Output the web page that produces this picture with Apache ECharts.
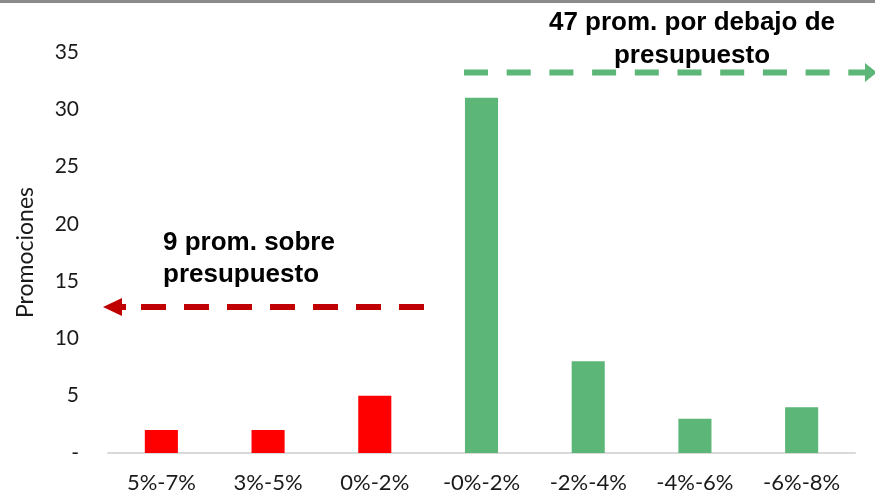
<!DOCTYPE html>
<html>
<head>
<meta charset="utf-8">
<script src="https://cdn.jsdelivr.net/npm/echarts@6/dist/echarts.min.js"></script>
<style>
html,body{margin:0;padding:0;background:#fff;}
#chart{width:875px;height:494px;}
</style>
</head>
<body>
<div id="chart"></div>
<script>
const categories = ['5%-7%', '3%-5%', '0%-2%', '-0%-2%', '-2%-4%', '-4%-6%', '-6%-8%'];
const promociones = [2, 2, 5, 31, 8, 3, 4];
const barColors = ['#ff0000', '#ff0000', '#ff0000', '#5bb678', '#5bb678', '#5bb678', '#5bb678'];
const yTicks = { min: 0, max: 35, interval: 5 };
const yAxisName = 'Promociones';
const noteAbove = '47 prom. por debajo de\npresupuesto';
const noteBelow = '9 prom. sobre\npresupuesto';

const chart = echarts.init(document.getElementById('chart'));
const tickFont = 'Lato, "Open Sans", sans-serif';
const boldFont = '"Liberation Sans", Arial, sans-serif';

chart.setOption({
  animation: false,
  grid: { left: 108, right: 20, top: 52, bottom: 41, containLabel: false },
  xAxis: {
    type: 'category',
    data: categories,
    axisLine: { show: true, lineStyle: { color: '#d9d9d9', width: 2 } },
    axisTick: { show: false },
    axisLabel: { color: '#1a1a1a', fontSize: 22, fontFamily: tickFont, margin: 19 }
  },
  yAxis: {
    type: 'value',
    min: yTicks.min, max: yTicks.max, interval: yTicks.interval,
    name: yAxisName,
    nameLocation: 'middle',
    nameGap: 71,
    nameTextStyle: { color: '#1a1a1a', fontSize: 23, fontFamily: tickFont },
    axisLine: { show: false },
    axisTick: { show: false },
    splitLine: { show: false },
    axisLabel: {
      color: '#1a1a1a', fontSize: 21, fontFamily: tickFont, margin: 29,
      formatter: v => (v === 0 ? '-' : String(v))
    }
  },
  series: [{
    type: 'bar',
    data: promociones.map((v, i) => ({ value: v, itemStyle: { color: barColors[i] } })),
    barWidth: '31%'
  }],
  graphic: [
    { type: 'rect', left: 0, top: 0, shape: { width: 875, height: 3 }, style: { fill: '#8a8a8a' } },
    // green dashed arrow
    { type: 'line', shape: { x1: 464, y1: 72.5, x2: 866, y2: 72.5 },
      style: { stroke: '#5bb678', lineWidth: 6, lineDash: [24, 18.7] } },
    { type: 'polygon', shape: { points: [[865, 63], [877, 72.5], [865, 82]] }, style: { fill: '#5bb678' } },
    // red dashed arrow
    { type: 'line', shape: { x1: 424, y1: 307, x2: 121, y2: 307 },
      style: { stroke: '#c00000', lineWidth: 6, lineDash: [25, 18] } },
    { type: 'polygon', shape: { points: [[122, 298], [103, 307], [122, 316]] }, style: { fill: '#c00000' } },
    { type: 'rect', shape: { x: 121, y: 304, width: 5, height: 6 }, style: { fill: '#c00000' } },
    // texts
    { type: 'text', x: 692, y: 6, style: { text: noteAbove, fill: '#000', font: 'bold 26px ' + boldFont, align: 'center', verticalAlign: 'top', lineHeight: 33 } },
    { type: 'text', x: 163, y: 227, style: { text: noteBelow, fill: '#000', font: 'bold 26px ' + boldFont, align: 'left', verticalAlign: 'top', lineHeight: 32 } }
  ]
});
</script>
</body>
</html>
